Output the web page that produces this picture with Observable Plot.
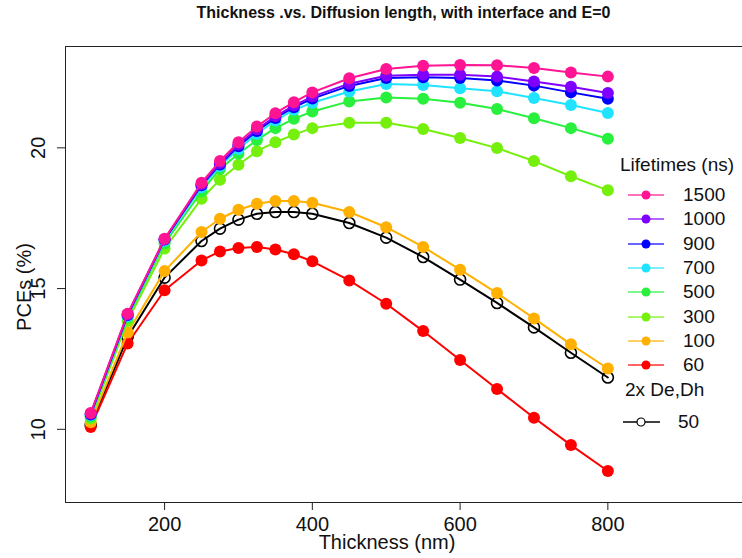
<!DOCTYPE html>
<html><head><meta charset="utf-8">
<script src="https://cdn.jsdelivr.net/npm/d3@7"></script>
<script src="https://cdn.jsdelivr.net/npm/@observablehq/plot@0.6"></script>
<style>
body{margin:0;background:#fff;font-family:"Liberation Sans",Arial,Helvetica,sans-serif;color:#111;}
#wrap{position:relative;width:742px;height:558px;overflow:hidden;background:#fff;}
#title{position:absolute;left:65px;width:677px;top:0;height:25px;line-height:25px;text-align:center;font-weight:bold;font-size:16px;}
#chart{position:absolute;left:0;top:30px;}
.lab{position:absolute;font-size:20px;white-space:nowrap;line-height:24px;height:24px;}
.leg{position:absolute;font-size:19px;white-space:nowrap;line-height:24px;height:24px;}
</style></head><body>
<div id="wrap">
<div id="title">Thickness .vs. Diffusion length, with interface and E=0</div>
<div id="chart"></div>
<div class="lab" style="left:287px;width:200px;text-align:center;top:530px;">Thickness (nm)</div>
<div class="lab" style="left:24px;top:287px;transform:translate(-50%,-50%) rotate(-90deg);">PCEs (%)</div>
<div id="legend"></div>
</div>
<script>
// Data
const thickness = [100,150,200,250,275,300,325,350,375,400,450,500,550,600,650,700,750,800];
const pce1500 = [10.58,14.11,16.77,18.76,19.53,20.20,20.76,21.23,21.62,21.97,22.47,22.80,22.92,22.94,22.93,22.84,22.68,22.53];
const pce1000 = [10.55,14.08,16.75,18.70,19.45,20.12,20.66,21.12,21.50,21.82,22.28,22.56,22.60,22.60,22.53,22.36,22.17,21.95];
const pce900  = [10.53,14.06,16.74,18.67,19.41,20.06,20.60,21.06,21.44,21.75,22.20,22.48,22.51,22.48,22.39,22.21,21.97,21.74];
const pce700  = [10.50,14.02,16.70,18.60,19.35,19.96,20.50,20.97,21.35,21.60,22.00,22.27,22.23,22.12,22.01,21.77,21.52,21.24];
const pce500  = [10.45,13.97,16.60,18.45,19.25,19.79,20.28,20.70,21.03,21.29,21.65,21.79,21.74,21.60,21.38,21.05,20.70,20.32];
const pce300  = [10.38,13.85,16.42,18.19,18.87,19.40,19.88,20.20,20.47,20.70,20.89,20.89,20.67,20.35,19.99,19.53,18.99,18.49];
const pce100  = [10.25,13.44,15.62,17.01,17.48,17.80,18.01,18.11,18.11,18.05,17.72,17.18,16.48,15.67,14.84,13.94,13.02,12.16];
const pce60   = [10.08,13.05,14.94,16.00,16.32,16.44,16.48,16.39,16.22,15.97,15.29,14.46,13.49,12.46,11.43,10.41,9.44,8.52];
const pceD50  = [10.15,13.28,15.39,16.69,17.13,17.45,17.66,17.72,17.72,17.66,17.33,16.81,16.12,15.32,14.49,13.62,12.72,11.84];

const lifetimeLabels = ["1500","1000","900","700","500","300","100","60"];
const lifetimeValues = [pce1500,pce1000,pce900,pce700,pce500,pce300,pce100,pce60];
const lifetimeColors = ["#FF1493","#8000FF","#0000FF","#20E4FF","#28F03C","#74F00C","#FFB000","#FF0000"];
const diffLabel = "50";
const xTicks = [200,400,600,800];
const yTicks = [10,15,20];

// long tables
const tables = lifetimeLabels.map((lab,i) => thickness.map((t,j) => ({series: lab, thickness: t, pce: lifetimeValues[i][j]})));
const tableD = thickness.map((t,j) => ({series: diffLabel, thickness: t, pce: pceD50[j]}));

const marks = [];
marks.push(Plot.line(tableD, {x:"thickness", y:"pce", stroke:"#000", strokeWidth:2}));
marks.push(Plot.dot(tableD, {x:"thickness", y:"pce", r:5.5, stroke:"#000", strokeWidth:1.6, fill:"none"}));
for (let i = lifetimeLabels.length - 1; i >= 0; i--) {
  marks.push(Plot.line(tables[i], {x:"thickness", y:"pce", stroke:"series", strokeWidth:2}));
  marks.push(Plot.dot(tables[i], {x:"thickness", y:"pce", r:6, fill:"series"}));
}

const chart = Plot.plot({
  width: 742,
  height: 528,
  marginLeft: 65,
  marginRight: 0,
  marginTop: 16,
  marginBottom: 56,
  style: {fontFamily: '"Liberation Sans",Arial,sans-serif', background: "#fff", color: "#111"},
  x: {domain: [65.9, 983.6], range: [65, 743], ticks: xTicks, label: null},
  y: {domain: [7.4, 23.6], ticks: yTicks, label: null},
  color: {domain: lifetimeLabels, range: lifetimeColors},
  marks: [
    ...marks,
    Plot.frame({stroke: "#222", strokeWidth: 1}),
    Plot.axisX({ticks: xTicks, tickSize: 8, tickPadding: 6, fontSize: 20, label: null, stroke:"#222"}),
    Plot.axisY({ticks: yTicks, tickSize: 8, tickFormat: () => "", label: null, stroke:"#222"}),
    Plot.text(yTicks, {y: d => d, text: d => String(d), frameAnchor: "left", dx: -27, rotate: -90, textAnchor: "middle", lineAnchor: "middle", fontSize: 20, fill:"#111"})
  ]
});
document.getElementById("chart").appendChild(chart);

// Legend
const leg = document.getElementById("legend");
function addText(txt, left, yc, cls){
  const d = document.createElement("div");
  d.className = cls; d.textContent = txt;
  d.style.left = left + "px"; d.style.top = (yc - 12) + "px";
  leg.appendChild(d);
}
addText("Lifetimes (ns)", 620, 165, "leg");
const ns = "http://www.w3.org/2000/svg";
lifetimeLabels.forEach((lab,i) => {
  const yc = 195 + i*24.3;
  const s = document.createElementNS(ns,"svg");
  s.setAttribute("width","40"); s.setAttribute("height","12");
  s.style.position = "absolute"; s.style.left = "626px"; s.style.top = (yc-6)+"px";
  const l = document.createElementNS(ns,"line");
  l.setAttribute("x1","2"); l.setAttribute("x2","38"); l.setAttribute("y1","6"); l.setAttribute("y2","6");
  l.setAttribute("stroke", lifetimeColors[i]); l.setAttribute("stroke-width","1.8"); l.setAttribute("stroke-opacity","0.6");
  const c = document.createElementNS(ns,"circle");
  c.setAttribute("cx","20"); c.setAttribute("cy","6"); c.setAttribute("r","4.5"); c.setAttribute("fill", lifetimeColors[i]);
  s.appendChild(l); s.appendChild(c); leg.appendChild(s);
  addText(lab, 683, yc, "leg");
});
addText("2x De,Dh", 625, 390, "leg");
{
  const yc = 421.5;
  const s = document.createElementNS(ns,"svg");
  s.setAttribute("width","40"); s.setAttribute("height","12");
  s.style.position = "absolute"; s.style.left = "621px"; s.style.top = (yc-6)+"px";
  const l = document.createElementNS(ns,"line");
  l.setAttribute("x1","2"); l.setAttribute("x2","39"); l.setAttribute("y1","6"); l.setAttribute("y2","6");
  l.setAttribute("stroke","#000"); l.setAttribute("stroke-width","1.3");
  const c = document.createElementNS(ns,"circle");
  c.setAttribute("cx","20"); c.setAttribute("cy","6"); c.setAttribute("r","4"); c.setAttribute("fill","#fff"); c.setAttribute("stroke","#000"); c.setAttribute("stroke-width","1.2");
  s.appendChild(l); s.appendChild(c); leg.appendChild(s);
  addText(diffLabel, 678, yc, "leg");
}
</script>
</body></html>
